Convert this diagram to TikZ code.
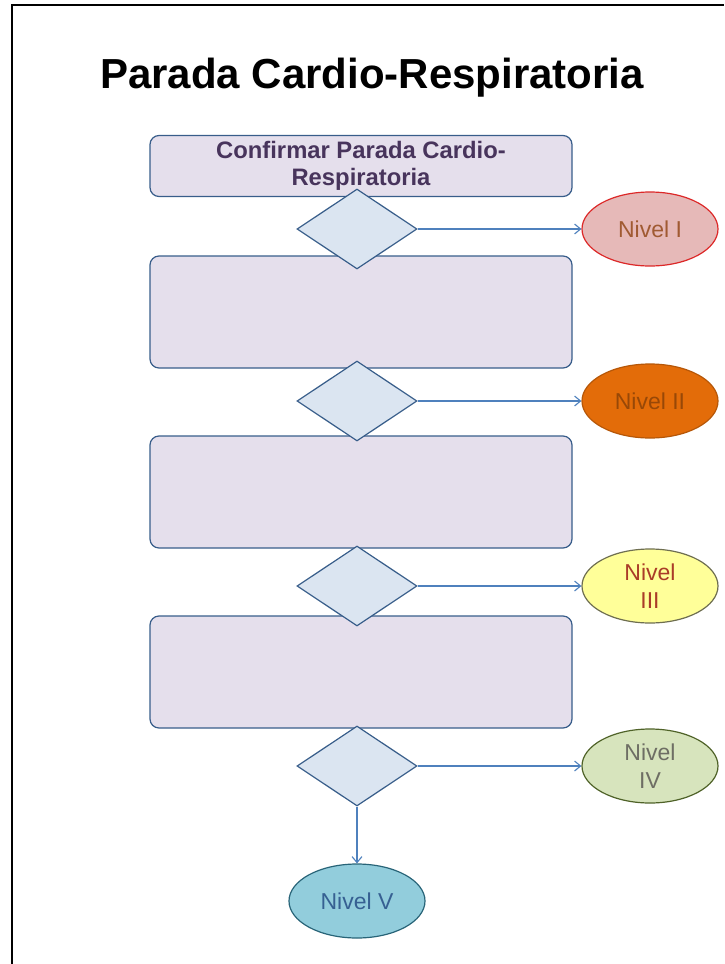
\documentclass[tikz,border=0pt]{standalone}
\usepackage{fontspec}
\setmainfont{Liberation Sans}
\usepackage{tikz}
\usetikzlibrary{
  arrows.meta,
  positioning,
  shapes.geometric
}
\definecolor{FrameBlue}{RGB}{56,93,138}
\definecolor{StepLilac}{RGB}{229,223,236}
\definecolor{CheckBlue}{RGB}{219,229,241}
\definecolor{LinkBlue}{RGB}{79,129,189}
\definecolor{StepText}{RGB}{72,52,92}
\definecolor{OneFill}{RGB}{230,185,184}
\definecolor{OneLine}{RGB}{220,40,40}
\definecolor{OneText}{RGB}{160,90,50}
\definecolor{TwoFill}{RGB}{227,108,9}
\definecolor{TwoLine}{RGB}{182,87,8}
\definecolor{TwoText}{RGB}{152,72,7}
\definecolor{ThreeFill}{RGB}{255,255,153}
\definecolor{ThreeLine}{RGB}{110,110,80}
\definecolor{ThreeText}{RGB}{170,60,40}
\definecolor{FourFill}{RGB}{215,228,189}
\definecolor{FourLine}{RGB}{79,98,40}
\definecolor{FourText}{RGB}{110,110,100}
\definecolor{FiveFill}{RGB}{146,205,220}
\definecolor{FiveLine}{RGB}{40,100,120}
\definecolor{FiveText}{RGB}{54,96,146}
\tikzset{
  stepbox/.style={draw=FrameBlue,fill=StepLilac,line width=1.2pt,rounded corners=9pt,inner sep=0pt,minimum width=422pt,minimum height=112pt,align=center,text=StepText,font=\bfseries\fontsize{23.8}{27.5}\selectfont},
  checkpt/.style={diamond,draw=FrameBlue,fill=CheckBlue,line width=1.2pt,inner sep=0pt,minimum width=120pt,minimum height=80pt},
  level/.style={ellipse,line width=1.2pt,inner sep=0pt,minimum width=136pt,minimum height=74pt,align=center,font=\fontsize{23}{28}\selectfont},
  link/.style={-{Straight Barb[length=6pt,width=10pt]},draw=LinkBlue,line width=1.1pt}
}

\begin{document}
\begin{tikzpicture}[x=1pt,y=-1pt]
\useasboundingbox (0,0) rectangle (724,964);
\draw[line width=2.2pt] (12,964) -- (12,5) -- (724,5);

\node[font=\bfseries\fontsize{42}{46}\selectfont] (title) at (372,78) {Parada Cardio-Respiratoria};

\node[stepbox, minimum height=61pt] (s0) at (361,166) {Confirmar Parada Cardio-\\Respiratoria};
\node[stepbox] (s1) at (361,312) {};
\node[stepbox] (s2) at (361,492) {};
\node[stepbox] (s3) at (361,672) {};

\node[checkpt] (c1) at (357,229) {};
\node[checkpt] (c2) at (357,401) {};
\node[checkpt] (c3) at (357,586) {};
\node[checkpt] (c4) at (357,766) {};

\node[level, draw=OneLine, fill=OneFill, text=OneText] (n1) at (650,229) {Nivel I};
\node[level, draw=TwoLine, fill=TwoFill, text=TwoText] (n2) at (650,401) {Nivel II};
\node[level, draw=ThreeLine, fill=ThreeFill, text=ThreeText] (n3) at (650,586) {Nivel\\III};
\node[level, draw=FourLine, fill=FourFill, text=FourText] (n4) at (650,766) {Nivel\\IV};
\node[level, draw=FiveLine, fill=FiveFill, text=FiveText] (n5) at (357,901) {Nivel V};

\draw[link] (c1) -- (n1);
\draw[link] (c2) -- (n2);
\draw[link] (c3) -- (n3);
\draw[link] (c4) -- (n4);
\draw[link] (c4) -- (n5);
\end{tikzpicture}
\end{document}
